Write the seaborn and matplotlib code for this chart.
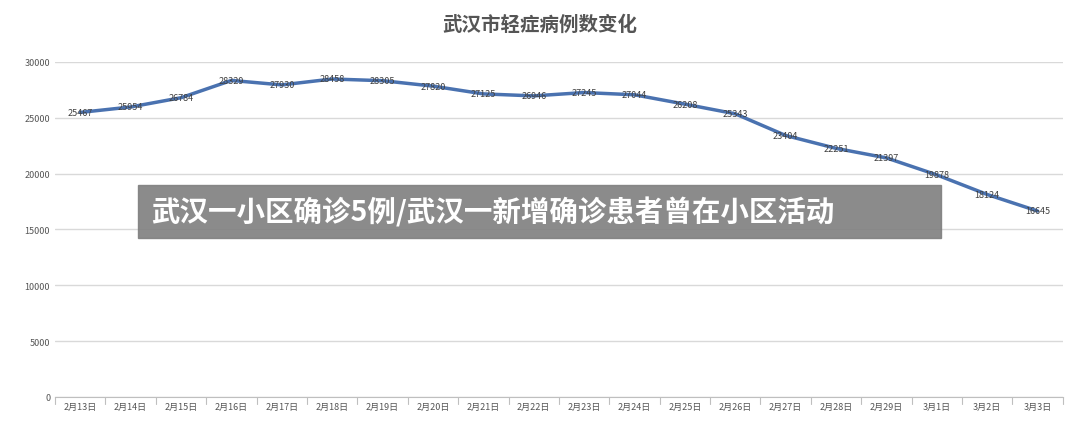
import matplotlib
matplotlib.use('Agg')
import matplotlib.pyplot as plt
import seaborn as sns
import pandas as pd

dates = ['2月13日', '2月14日', '2月15日', '2月16日', '2月17日', '2月18日', '2月19日',
         '2月20日', '2月21日', '2月22日', '2月23日', '2月24日', '2月25日', '2月26日',
         '2月27日', '2月28日', '2月29日', '3月1日', '3月2日', '3月3日']
cases = [25467, 25954, 26784, 28329, 27930, 28458, 28305, 27820, 27125, 26946,
         27245, 27044, 26208, 25343, 23404, 22251, 21397, 19878, 18124, 16645]
df = pd.DataFrame({'date': dates, 'cases': cases})

sns.set_style('white')
plt.rcParams['font.family'] = ['Noto Sans CJK SC', 'DejaVu Sans']

fig = plt.figure(figsize=(10.8, 4.27), dpi=100)
ax = fig.add_axes([0.051, 0.068, 0.933, 0.785])
x = list(range(len(dates)))
sns.lineplot(x=x, y=df['cases'], ax=ax, color='#4a72b0', linewidth=2.5)
for xi, v in zip(x, cases):
    ax.text(xi, v, str(v), ha='center', va='center', fontsize=6.5, color='#404040')

ax.set_xlim(-0.5, len(dates) - 0.5)
ax.set_ylim(0, 30000)
ax.set_yticks(range(0, 30001, 5000))
ax.set_xticks(x)
ax.set_xticklabels(dates, fontsize=6.5, color='#555555')
ax.tick_params(axis='y', labelsize=6.5, colors='#555555', length=0)
ax.tick_params(axis='x', length=0)
ax.yaxis.grid(True, color='#d9d9d9', linewidth=1)
for s in ['top', 'right', 'left']:
    ax.spines[s].set_visible(False)
ax.spines['bottom'].set_color('#bfbfbf')
for b in range(len(dates) + 1):
    ax.plot([b - 0.5, b - 0.5], [0, -600], color='#bfbfbf', lw=0.8, clip_on=False)
ax.set_xlabel('')
ax.set_ylabel('')

fig.text(0.5, 0.94, '武汉市轻症病例数变化', ha='center', va='center',
         fontsize=14, color='#555555', fontweight='bold')

fig.patches.append(plt.Rectangle((0.128, 0.44), 0.743, 0.124, transform=fig.transFigure,
                                 color='#7f7f7f', alpha=0.9, zorder=5))
fig.text(0.14, 0.502, '武汉一小区确诊5例/武汉一新增确诊患者曾在小区活动', ha='left', va='center',
         fontsize=20.5, color='white', fontweight='bold', zorder=6)

fig.savefig('out.png', dpi=100, facecolor='white')
